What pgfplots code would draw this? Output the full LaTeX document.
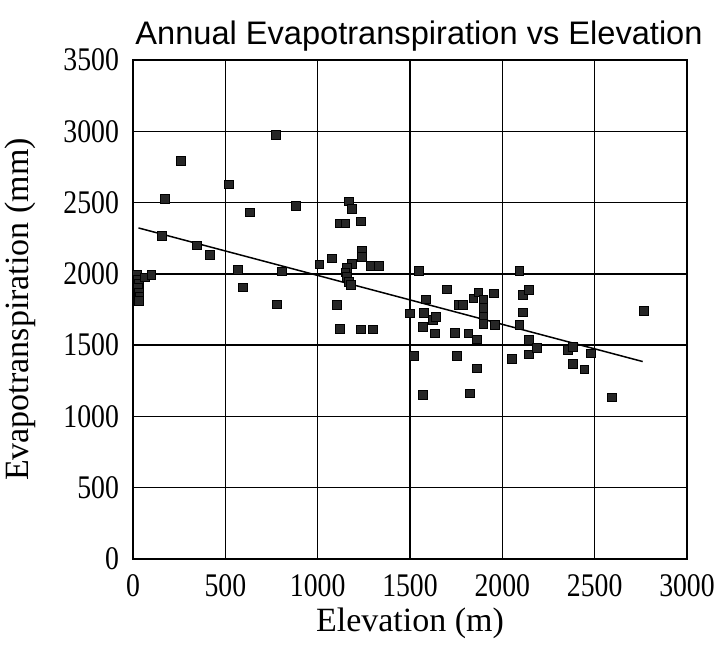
\documentclass[border=0pt]{standalone}
\usepackage{fontspec}
\setmainfont{Liberation Serif}
\newfontfamily\titlefont{Liberation Sans}
\newfontfamily\tickfont[FakeStretch=0.84]{Liberation Serif}
\usepackage{pgfplots}
\pgfplotsset{compat=1.18}
\pgfplotstableread{
E ET
20 1990
25 1960
30 1930
28 1900
32 1870
35 1840
30 1810
65 1975
100 1995
155 2265
172 2524
260 2793
345 2200
417 2134
520 2628
567 2030
594 1905
633 2431
774 2973
778 1786
805 2018
883 2475
1009 2067
1079 2108
1103 1781
1121 1612
1120 2354
1150 2354
1168 2508
1187 2457
1236 2368
1238 2165
1238 2120
1233 1611
1298 1611
1290 2055
1330 2055
1185 2070
1160 2040
1150 2010
1160 1980
1170 1945
1180 1925
1500 1723
1523 1424
1550 2022
1572 1150
1576 1727
1588 1821
1572 1629
1626 1676
1640 1700
1635 1583
1698 1891
1743 1587
1752 1426
1762 1781
1785 1781
1816 1583
1825 1162
1843 1828
1861 1541
1861 1337
1870 1870
1897 1815
1897 1760
1897 1700
1897 1650
1955 1863
1960 1641
2050 1403
2092 2020
2092 1641
2110 1730
2113 1851
2146 1886
2144 1536
2144 1435
2186 1482
2357 1466
2381 1489
2381 1367
2444 1330
2480 1442
2592 1134
2768 1739
}\datatable
\begin{document}
\begin{tikzpicture}
\useasboundingbox (-66.5pt,-43pt) rectangle (292.5pt,279.5pt);
\begin{axis}[
 scale only axis, width=277pt, height=249.5pt,
 at={(0,0)}, anchor=south west,
 xmin=0, xmax=3000, ymin=0, ymax=3500,
 xtick={0,500,...,3000}, ytick={0,500,...,3500},
 grid=major, major grid style={black, line width=0.7pt},
 axis line style={line width=1pt},
 major tick length=0pt,
 tick label style={font=\tickfont\fontsize{16.5}{20}\selectfont},
 /pgf/number format/assume math mode=true,
 /pgf/number format/1000 sep={},
 xticklabel style={yshift=-4pt},
 yticklabel style={xshift=-3.5pt},
 clip=false,
]
\addplot[only marks, mark=square*, mark size=2.2pt, mark options={draw=black, fill=black!85}] table[x=E, y=ET] {\datatable};
\addplot[black, line width=0.75pt, no marks] coordinates {(30,2322) (2760,1385)};
\end{axis}
\node[anchor=base, font=\titlefont\fontsize{16.3}{19}\selectfont] at (143pt,257.5pt) {Annual Evapotranspiration vs Elevation};
\node[rotate=90, font=\fontsize{17}{20}\selectfont] at (-56.5pt,124.75pt) {Evapotranspiration (mm)};
\node[font=\fontsize{17}{20}\selectfont] at (138.5pt,-32pt) {Elevation (m)};
\end{tikzpicture}
\end{document}
